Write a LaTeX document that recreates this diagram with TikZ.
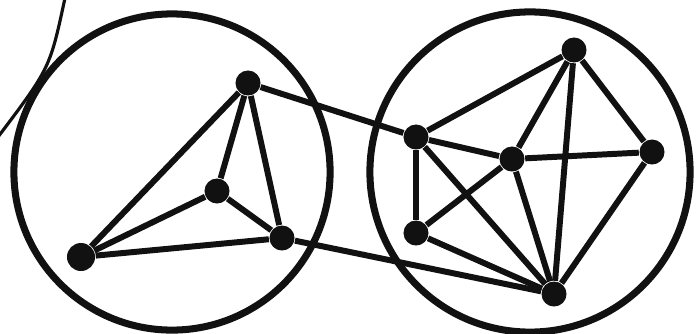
\documentclass[tikz,border=0pt]{standalone}
\usepackage{xcolor}
\definecolor{ink}{HTML}{111111}
\usepackage{tikz}
\usetikzlibrary{positioning}

\begin{document}
\begin{tikzpicture}[
  x=0.01cm,y=-0.01cm,
  v/.style={circle,fill=ink,inner sep=0pt,minimum size=0.25cm},
  vbig/.style={v,minimum size=0.28cm},
  e/.style={ink,line width=1.7pt},
  ring/.style={ink,line width=2pt},
  stroke/.style={ink,line width=0.9pt}]

\useasboundingbox (0,0) rectangle (700,333);
\clip (0,0) rectangle (700,333);

% --- stray stroke (top left) ---
\draw[stroke] (65,-2) .. controls (50,68) .. (-2,137);

% --- the two rings ---
\draw[ring] (172,172) circle[radius=1.58cm];
\draw[ring] (530,172) circle[radius=1.60cm];

% --- left cluster ---
\node[v]    (a1) at (248,83)  {};
\node[v]    (a2) at (217,191) {};
\node[v]    (a3) at (282,238) {};
\node[vbig] (a4) at (81,257)  {};

% --- right cluster ---
\node[v] (b1) at (416,137) {};
\node[v] (b2) at (512,159) {};
\node[v] (b3) at (574,50)  {};
\node[v] (b4) at (652,152) {};
\node[v] (b5) at (416,233) {};
\node[v] (b6) at (554,294) {};

% edges, left
\draw[e] (a1) -- (a2);
\draw[e] (a1) -- (a3);
\draw[e] (a1) -- (a4);
\draw[e] (a2) -- (a3);
\draw[e] (a2) -- (a4);
\draw[e] (a4) -- (a3);
% edges, between
\draw[e] (a1) -- (b1);
\draw[e] (a3) -- (b6);
% edges, right
\draw[e] (b1) -- (b3);
\draw[e] (b1) -- (b2);
\draw[e] (b1) -- (b5);
\draw[e] (b1) -- (b6);
\draw[e] (b2) -- (b3);
\draw[e] (b2) -- (b4);
\draw[e] (b2) -- (b5);
\draw[e] (b2) -- (b6);
\draw[e] (b3) -- (b4);
\draw[e] (b3) -- (b6);
\draw[e] (b4) -- (b6);
\draw[e] (b5) -- (b6);
\end{tikzpicture}
\end{document}
